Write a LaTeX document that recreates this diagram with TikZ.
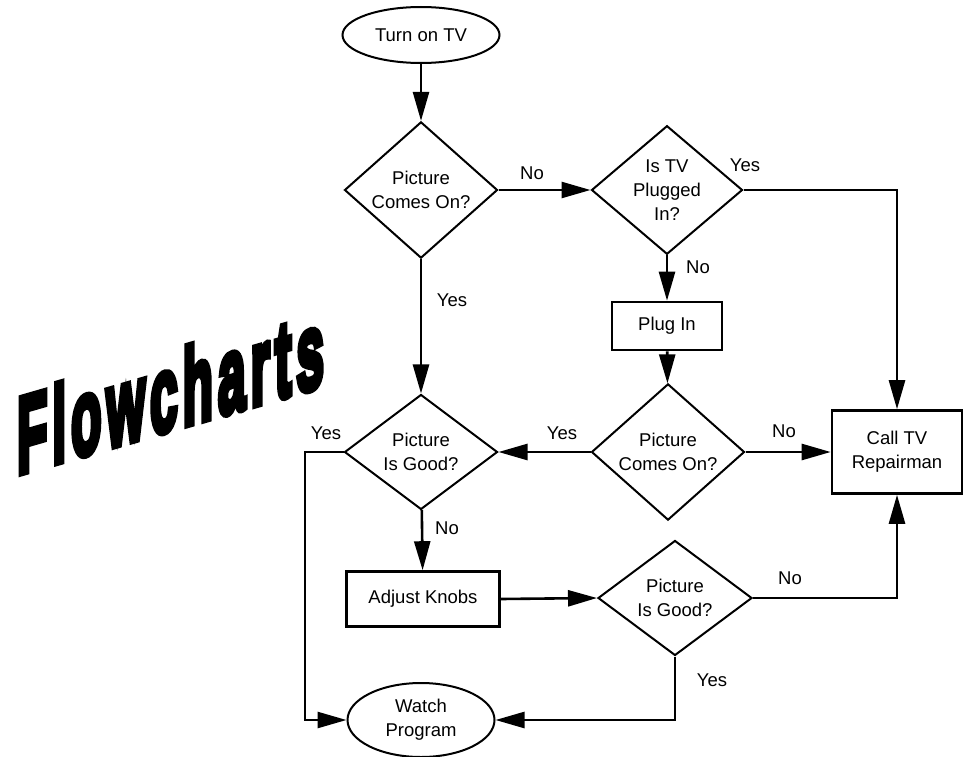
\documentclass[tikz,border=0pt]{standalone}
\usepackage{fontspec}
\setmainfont{Liberation Sans}
\newfontfamily\titlefont{Liberation Sans}[BoldFeatures={FakeBold=7}, LetterSpace=10]
\usetikzlibrary{arrows.meta,shapes.geometric}
\definecolor{ink}{RGB}{0,0,0}
\newcommand\chartfont{\fontsize{18.5}{24}\selectfont}
\tikzset{
  decision/.style={diamond, draw=ink, line width=2pt, minimum width=153pt,
              minimum height=115pt, inner sep=0pt, align=center, font=\chartfont},
  process/.style={rectangle, draw=ink, line width=2.6pt, inner sep=2pt,
              align=center, font=\chartfont},
  terminal/.style={ellipse, draw=ink, line width=2pt, inner sep=0pt,
              align=center, font=\chartfont},
  flow/.style={-{Triangle[length=29pt,width=16pt]}, ink, line width=2.6pt},
  lbl/.style={font=\chartfont, inner sep=1pt},
}

\begin{document}
\begin{tikzpicture}[x=1pt,y=-1pt]
    \useasboundingbox (0,0) rectangle (963,757);
    % title
    \node (title) [anchor=base west, inner sep=0pt, yslant=0.29, xscale=0.46, transform shape,
      font=\titlefont\bfseries\fontsize{108}{108}\selectfont] at (17,474) {Flowcharts};
    % boxes
    \node (turnon)   [terminal, minimum width=157pt, minimum height=56pt] at (421,35) {Turn on TV};
    \node (comeson)  [decision] at (421,190) {Picture\\Comes On?};
    \node (plugged)  [decision, minimum width=151pt] at (667,190) {Is TV\\Plugged\\In?};
    \node (plugin)   [process, minimum width=110pt, minimum height=48pt] at (667,326) {Plug In};
    \node (comeson2) [decision] at (668,452) {Picture\\Comes On?};
    \node (good)     [decision] at (421,452) {Picture\\Is Good?};
    \node (repair)   [process, minimum width=130pt, minimum height=83pt] at (897,452) {Call TV\\Repairman};
    \node (adjust)   [process, minimum width=153pt, minimum height=55pt] at (423,599) {Adjust Knobs};
    \node (good2)    [decision, minimum width=154pt] at (675,598) {Picture\\Is Good?};
    \node (watch)    [terminal, minimum width=147pt, minimum height=74pt] at (421,720) {Watch\\Program};
    \coordinate (yesleft) at (305,452);
    % connectors
    \draw[flow] (turnon) -- (comeson);
    \draw[flow] (comeson.east) -- (plugged.west);
    \draw[flow] (plugged.east) -| (repair.north);
    \draw[flow] (plugged) -- (plugin);
    \draw[flow] (plugin) -- (comeson2);
    \draw[flow] (comeson2.east) -- (repair.west);
    \draw[flow] (comeson2.west) -- (good.east);
    \draw[flow] (comeson) -- (good);
    \draw[flow] (good.west) -- (yesleft) |- (watch.west);
    \draw[flow] (good) -- (adjust);
    \draw[flow] (adjust.east) -- (good2.west);
    \draw[flow] (good2.east) -| (repair.south);
    \draw[flow] (good2.south) |- (watch.east);
    % answers
    \node[lbl] at (532,173) {No};
    \node[lbl] at (745,165) {Yes};
    \node[lbl] at (698,267) {No};
    \node[lbl] at (452,300) {Yes};
    \node[lbl] at (326,433) {Yes};
    \node[lbl] at (562,433) {Yes};
    \node[lbl] at (784,431) {No};
    \node[lbl] at (447,528) {No};
    \node[lbl] at (790,578) {No};
    \node[lbl] at (712,680) {Yes};
\end{tikzpicture}
\end{document}
